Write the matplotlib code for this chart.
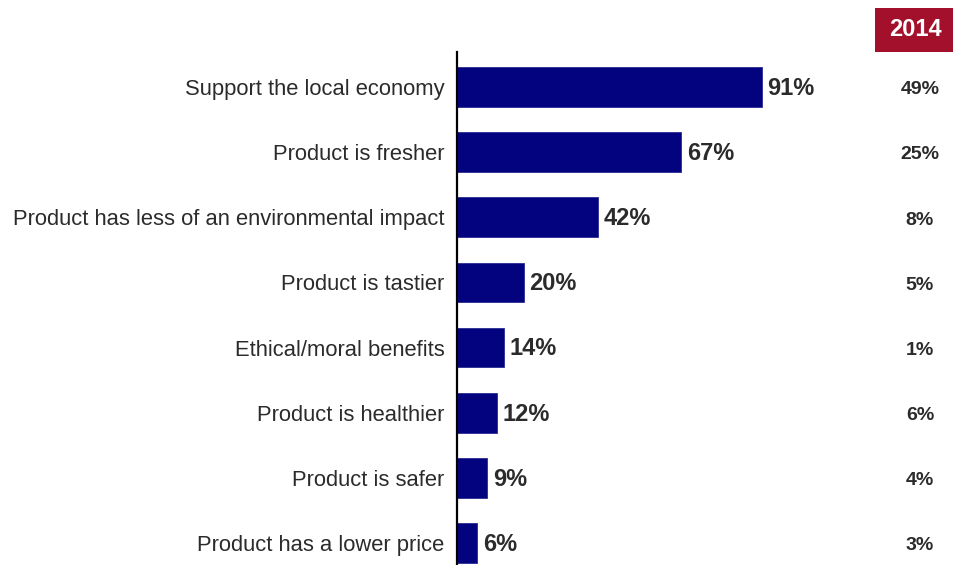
import matplotlib
matplotlib.use("Agg")
import matplotlib.pyplot as plt
from matplotlib.patches import Rectangle
import matplotlib.transforms as mtransforms

# Reasons for buying local products
categories = [
    "Support the local economy",
    "Product is fresher",
    "Product has less of an environmental impact",
    "Product is tastier",
    "Ethical/moral benefits",
    "Product is healthier",
    "Product is safer",
    "Product has a lower price",
]
current_pct = [91, 67, 42, 20, 14, 12, 9, 6]
pct_2014 = [49, 25, 8, 5, 1, 6, 4, 3]
year_label = "2014"

BAR_COLOR = "#03037f"
TEXT_COLOR = "#2b2b2b"
YEAR_COLOR = "#a3102c"

plt.rcParams["font.family"] = ["Liberation Sans", "DejaVu Sans"]

W, H = 954, 565
fig = plt.figure(figsize=(W / 100, H / 100), dpi=100)

ax_left = 457 / W
ax_right = 792 / W
ax_top = 1 - 52 / H
ax = fig.add_axes([ax_left, 0.0, ax_right - ax_left, ax_top])

y = list(range(len(categories)))
ax.barh(y, current_pct, height=0.61, color=BAR_COLOR, edgecolor="#2a2a95",
        linewidth=0.6, zorder=2)

ax.set_xlim(0, 100)
ax.set_ylim(7.338, -0.537)

ax.set_yticks(y)
ax.set_yticklabels(categories, fontsize=15.8, color=TEXT_COLOR)
ax.tick_params(axis="y", length=0, pad=9)
ax.set_xticks([])

for s in ["top", "right", "bottom"]:
    ax.spines[s].set_visible(False)
ax.spines["left"].set_linewidth(1.6)
ax.spines["left"].set_color("black")

# Value labels at the end of each bar
for yi, v in zip(y, current_pct):
    ax.annotate(f"{v}%", xy=(v, yi), xytext=(4, -1), textcoords="offset points",
                ha="left", va="center", fontsize=17, fontweight="bold",
                color=TEXT_COLOR, annotation_clip=False)

# 2014 comparison column
trans = mtransforms.blended_transform_factory(fig.transFigure, ax.transData)
col_x = 920 / W
for yi, v in zip(y, pct_2014):
    ax.annotate(f"{v}%", xy=(col_x, yi), xycoords=trans, xytext=(0, -2),
                textcoords="offset points", ha="center", va="center",
                fontsize=14, fontweight="bold", color=TEXT_COLOR,
                annotation_clip=False)

# Year header box
fig.patches.append(Rectangle((875 / W, 1 - 52 / H), (W - 875) / W, 44 / H,
                             transform=fig.transFigure, facecolor=YEAR_COLOR,
                             edgecolor="none"))
fig.text(915 / W, 1 - 30 / H, year_label, ha="center", va="center",
         fontsize=17, fontweight="bold", color="white")

fig.savefig("out.png", dpi=100)
